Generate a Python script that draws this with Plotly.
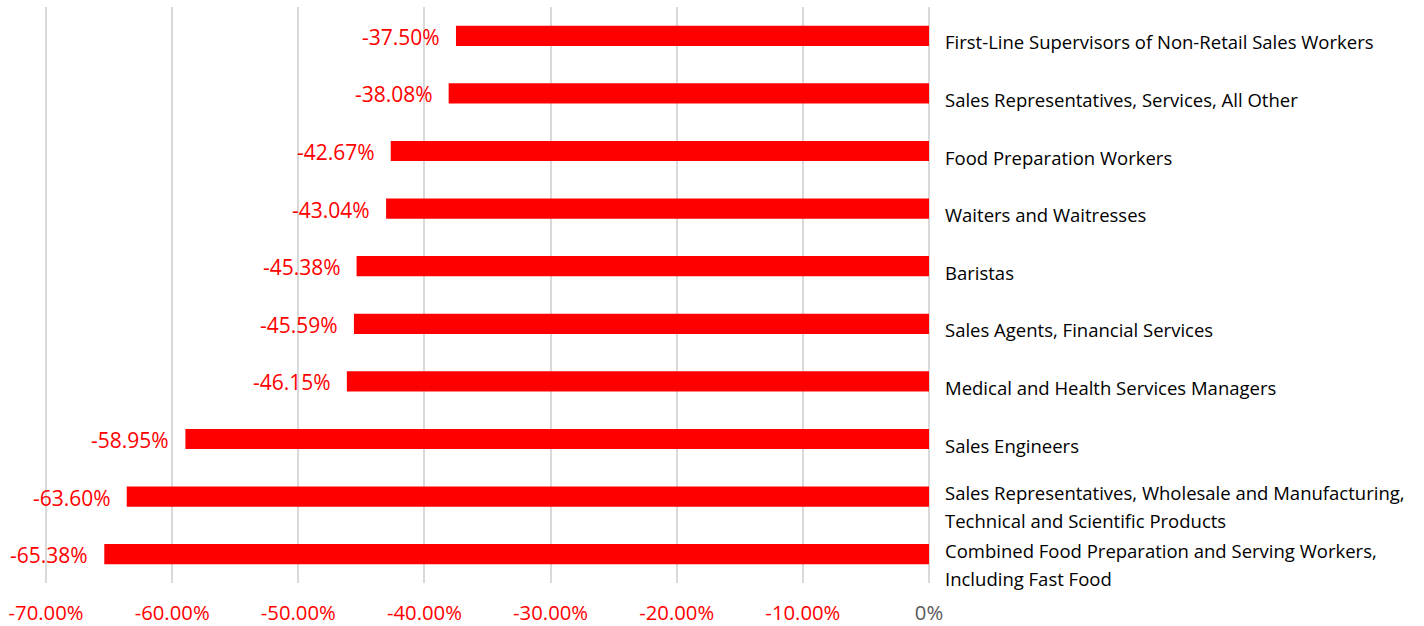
import plotly.graph_objects as go

categories = [
    "First-Line Supervisors of Non-Retail Sales Workers",
    "Sales Representatives, Services, All Other",
    "Food Preparation Workers",
    "Waiters and Waitresses",
    "Baristas",
    "Sales Agents, Financial Services",
    "Medical and Health Services Managers",
    "Sales Engineers",
    "Sales Representatives, Wholesale and Manufacturing,<br>Technical and Scientific Products",
    "Combined Food Preparation and Serving Workers,<br>Including Fast Food",
]
values = [-37.50, -38.08, -42.67, -43.04, -45.38, -45.59, -46.15, -58.95, -63.60, -65.38]
tick_vals = [-70, -60, -50, -40, -30, -20, -10, 0]
tick_labels = ["-70.00%", "-60.00%", "-50.00%", "-40.00%", "-30.00%", "-20.00%", "-10.00%", "0%"]

RED = "#FF0000"
FONT = "Open Sans"

fig = go.Figure()
fig.add_trace(go.Bar(
    x=values, y=categories, orientation="h",
    marker=dict(color=RED, line=dict(width=0)),
    width=0.35, hoverinfo="skip",
))

annotations = []
# data labels
for cat, v in zip(categories, values):
    annotations.append(dict(
        x=v, y=cat, xref="x", yref="y", text=f"{v:.2f}%",
        showarrow=False, xanchor="right", yanchor="middle", xshift=-14, yshift=-1,
        font=dict(family=FONT, size=21, color=RED),
    ))
# category labels on the right of zero line
line_gap = 28
for cat in categories:
    lines = cat.split("<br>")
    if len(lines) == 1:
        annotations.append(dict(
            x=0, y=cat, xref="x", yref="y", text=lines[0], showarrow=False,
            xanchor="left", yanchor="middle", xshift=14, yshift=-6,
            font=dict(family=FONT, size=18.5, color="#000000"),
        ))
    else:
        for i, ln in enumerate(lines):
            annotations.append(dict(
                x=0, y=cat, xref="x", yref="y", text=ln, showarrow=False,
                xanchor="left", yanchor="middle", xshift=14,
                yshift=-10 + (line_gap / 2) - i * line_gap,
                font=dict(family=FONT, size=18.5, color="#000000"),
            ))

ticktext = [t if t != "0%" else f'<span style="color:#595959">{t}</span>' for t in tick_labels]

fig.update_layout(
    width=1424, height=626,
    margin=dict(l=45, r=495, t=7, b=43),
    paper_bgcolor="white", plot_bgcolor="white",
    showlegend=False,
    annotations=annotations,
    xaxis=dict(
        range=[-70.08, 0], tickvals=tick_vals, ticktext=ticktext,
        showgrid=True, gridcolor="#D9D9D9", gridwidth=2,
        zeroline=True, zerolinecolor="#D9D9D9", zerolinewidth=2,
        showline=False, ticks="", ticklabelstandoff=16, automargin=False,
        tickfont=dict(family=FONT, size=20.3, color=RED),
        fixedrange=True,
    ),
    yaxis=dict(
        categoryorder="array", categoryarray=categories,
        autorange="reversed", showticklabels=False, showgrid=False,
        zeroline=False, showline=False, ticks="", fixedrange=True,
        automargin=False,
    ),
)

fig.write_html("out.html", config={"displayModeBar": False},
               post_script="document.body.style.margin='0';")
